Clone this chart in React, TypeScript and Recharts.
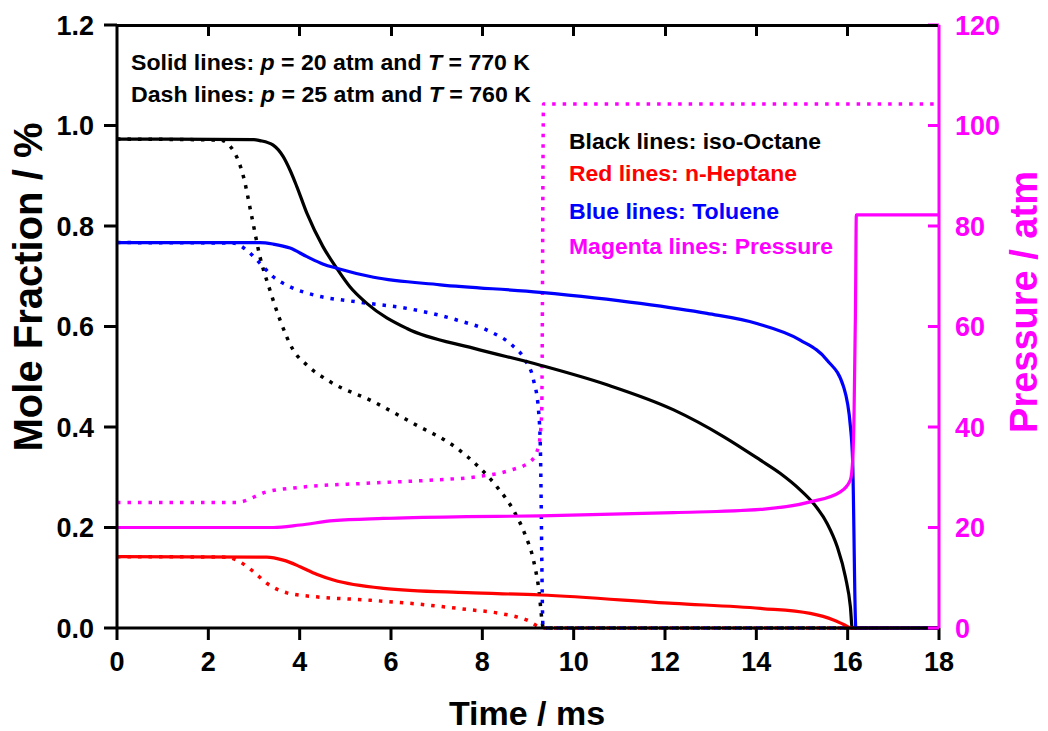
import { LineChart, Line, XAxis, YAxis } from "recharts"

const FONT = '"Liberation Sans", Arial, Helvetica, sans-serif'
const BLACK = "#000000"
const RED = "#ff0000"
const BLUE = "#0000ff"
const MAGENTA = "#ff00ff"

// [time / ms, mole fraction / %]  -- solid: p = 20 atm, T = 770 K
const isoOctane20: [number, number][] = [
  [0, 0.973], [3.0, 0.972], [3.13, 0.97], [3.42, 0.961], [3.64, 0.938], [3.79, 0.911],
  [3.94, 0.878], [4.16, 0.825], [4.51, 0.759], [4.81, 0.716], [5.1, 0.679], [5.47, 0.646],
  [6.35, 0.596], [7.8, 0.557], [9.27, 0.523], [10.73, 0.484], [12.19, 0.434],
  [13.28, 0.381], [14.09, 0.334], [14.52, 0.308], [14.96, 0.275], [15.25, 0.248],
  [15.55, 0.208], [15.77, 0.162], [15.95, 0.102], [16.06, 0.042], [16.1, 0], [18, 0],
]
const heptane20: [number, number][] = [
  [0, 0.142], [3.28, 0.141], [3.64, 0.135], [4.01, 0.122], [4.37, 0.107], [4.74, 0.0955],
  [5.83, 0.079], [7.66, 0.0703], [9.27, 0.0657], [12.19, 0.049], [14.09, 0.039],
  [15.18, 0.029], [15.69, 0.016], [15.91, 0.007], [16.09, 0], [18, 0],
]
const toluene20: [number, number][] = [
  [0, 0.767], [3.13, 0.767], [3.42, 0.764], [3.79, 0.756], [4.16, 0.739], [4.52, 0.724],
  [4.81, 0.716], [5.62, 0.698], [7.08, 0.683], [9.27, 0.668], [11.46, 0.646],
  [12.92, 0.626], [14.01, 0.606], [14.96, 0.573], [15.55, 0.533], [15.91, 0.48],
  [16.06, 0.401], [16.11, 0.33], [16.18, 0], [18, 0],
]
// [time / ms, pressure / atm]
const pressure20: [number, number][] = [
  [0, 20], [3.42, 20], [4.01, 20.5], [4.74, 21.35], [5.83, 21.8], [7.66, 22.15],
  [9.27, 22.3], [12.19, 22.95], [14.09, 23.6], [15.18, 25.1], [15.84, 27.1],
  [16.06, 29.5], [16.11, 33.4], [16.14, 42.7], [16.17, 62.6], [16.19, 82.2], [18, 82.2],
]

// dash: p = 25 atm, T = 760 K
const isoOctane25: [number, number][] = [
  [0, 0.973], [2.26, 0.971], [2.58, 0.945], [2.77, 0.898], [2.95, 0.819], [3.13, 0.739],
  [3.35, 0.672], [3.57, 0.613], [3.86, 0.553], [4.16, 0.523], [4.67, 0.49], [5.62, 0.45],
  [6.49, 0.407], [7.44, 0.358], [7.95, 0.318], [8.32, 0.281], [8.72, 0.228],
  [8.94, 0.185], [9.12, 0.135], [9.23, 0.082], [9.34, 0], [18, 0],
]
const heptane25: [number, number][] = [
  [0, 0.142], [2.4, 0.141], [2.62, 0.135], [2.99, 0.112], [3.28, 0.089], [3.72, 0.07],
  [4.37, 0.062], [5.47, 0.0557], [6.57, 0.0478], [7.66, 0.037], [8.39, 0.029],
  [8.97, 0.016], [9.34, 0], [18, 0],
]
const toluene25: [number, number][] = [
  [0, 0.767], [2.54, 0.766], [2.84, 0.752], [3.13, 0.726], [3.42, 0.699], [3.79, 0.679],
  [4.3, 0.663], [5.25, 0.649], [6.35, 0.636], [7.44, 0.613], [8.17, 0.59], [8.65, 0.563],
  [8.94, 0.533], [9.12, 0.494], [9.23, 0.434], [9.27, 0.361], [9.33, 0], [18, 0],
]
const pressure25: [number, number][] = [
  [0, 25], [2.62, 25], [3.28, 27.1], [4.01, 28], [5.47, 28.8], [6.93, 29.45],
  [7.88, 30.1], [8.61, 31.4], [9.05, 33.1], [9.23, 36.1], [9.3, 42.7], [9.34, 104.3],
  [18, 104.3],
]

const timeTicks = [0, 2, 4, 6, 8, 10, 12, 14, 16, 18]
const fractionTicks = [0, 0.2, 0.4, 0.6, 0.8, 1.0, 1.2]
const pressureTicks = [0, 20, 40, 60, 80, 100, 120]

// plot box (page pixels) -- chart margins + axis sizes below produce this
const PLOT_LEFT = 117
const PLOT_RIGHT = 939
const PLOT_TOP = 25
const T_MAX = 18

const toPoints = (pairs: [number, number][]) => pairs.map(([t, v]) => ({ t, v }))

const DOTTED = "3.5 7"

const series = [
  { key: "oct25", data: isoOctane25, color: BLACK, dash: DOTTED, y: "left" },
  { key: "hep25", data: heptane25, color: RED, dash: DOTTED, y: "left" },
  { key: "tol25", data: toluene25, color: BLUE, dash: DOTTED, y: "left" },
  { key: "p25", data: pressure25, color: MAGENTA, dash: DOTTED, y: "right" },
  { key: "oct20", data: isoOctane20, color: BLACK, dash: undefined, y: "left" },
  { key: "hep20", data: heptane20, color: RED, dash: undefined, y: "left" },
  { key: "tol20", data: toluene20, color: BLUE, dash: undefined, y: "left" },
  { key: "p20", data: pressure20, color: MAGENTA, dash: undefined, y: "right" },
]

const tickFont = { fontSize: 27, fontWeight: 700, fontFamily: FONT }

export default function App() {
  const frameX = (t: number) => PLOT_LEFT + (t / T_MAX) * (PLOT_RIGHT - PLOT_LEFT)

  return (
    <div style={{ position: "absolute", left: 0, top: 0, width: 1048, height: 731, background: "#fff" }}>
      <LineChart width={1048} height={731} margin={{ top: 25, right: 29, bottom: 43, left: 37 }}>
        <XAxis
          dataKey="t"
          type="number"
          domain={[0, T_MAX]}
          ticks={timeTicks}
          height={60}
          tickSize={12}
          tickMargin={12}
          axisLine={{ stroke: BLACK, strokeWidth: 3 }}
          tickLine={{ stroke: BLACK, strokeWidth: 3 }}
          tick={{ ...tickFont, fill: BLACK }}
        />
        <YAxis
          yAxisId="left"
          type="number"
          domain={[0, 1.2]}
          ticks={fractionTicks}
          width={80}
          tickSize={13}
          tickMargin={10}
          tickFormatter={(v: number) => v.toFixed(1)}
          axisLine={{ stroke: BLACK, strokeWidth: 3 }}
          tickLine={{ stroke: BLACK, strokeWidth: 3 }}
          tick={{ ...tickFont, fill: BLACK }}
        />
        {/* pressure axis: inward ticks, labels outside */}
        <YAxis
          yAxisId="right"
          orientation="right"
          type="number"
          domain={[0, 120]}
          ticks={pressureTicks}
          width={80}
          tickSize={-11}
          tickMargin={27}
          axisLine={{ stroke: MAGENTA, strokeWidth: 3 }}
          tickLine={{ stroke: MAGENTA, strokeWidth: 3 }}
          tick={{ ...tickFont, fill: MAGENTA }}
        />
        {series.map((s) => (
          <Line
            key={s.key}
            data={toPoints(s.data)}
            dataKey="v"
            yAxisId={s.y}
            type="monotone"
            stroke={s.color}
            strokeWidth={s.dash ? 3.5 : 3.2}
            strokeDasharray={s.dash}
            dot={false}
            activeDot={false}
            isAnimationActive={false}
          />
        ))}
      </LineChart>

      <svg
        width={1048}
        height={731}
        style={{ position: "absolute", left: 0, top: 0, pointerEvents: "none" }}
        fontFamily={FONT}
        fontWeight={700}
      >
        <text x={527} y={725} fontSize={34} textAnchor="middle" fill={BLACK}>Time / ms</text>
        <text x={42} y={287} fontSize={40} textAnchor="middle" fill={BLACK} transform="rotate(-90 42 287)">
          Mole Fraction / %
        </text>
        <text x={1037} y={302} fontSize={38} textAnchor="middle" fill={MAGENTA} transform="rotate(-90 1037 302)">
          Pressure / atm
        </text>

        <text x={131} y={70} fontSize={22} fill={BLACK} textLength={399} lengthAdjust="spacingAndGlyphs">
          Solid lines: <tspan fontStyle="italic">p</tspan> = 20 atm and <tspan fontStyle="italic">T</tspan> = 770 K
        </text>
        <text x={131} y={102} fontSize={22} fill={BLACK} textLength={400} lengthAdjust="spacingAndGlyphs">
          Dash lines: <tspan fontStyle="italic">p</tspan> = 25 atm and <tspan fontStyle="italic">T</tspan> = 760 K
        </text>

        <text x={569} y={149} fontSize={22} fill={BLACK} textLength={252} lengthAdjust="spacingAndGlyphs">
          Black lines: iso-Octane
        </text>
        <text x={569} y={181} fontSize={22} fill={RED} textLength={228} lengthAdjust="spacingAndGlyphs">
          Red lines: n-Heptane
        </text>
        <text x={569} y={219} fontSize={22} fill={BLUE} textLength={210} lengthAdjust="spacingAndGlyphs">
          Blue lines: Toluene
        </text>
        <text x={569} y={254} fontSize={22} fill={MAGENTA} textLength={264} lengthAdjust="spacingAndGlyphs">
          Magenta lines: Pressure
        </text>
      </svg>

      {/* top frame with inward ticks */}
      <div
        style={{
          position: "absolute",
          left: PLOT_LEFT - 1.5,
          top: PLOT_TOP - 1.5,
          width: PLOT_RIGHT - PLOT_LEFT,
          height: 3,
          background: BLACK,
          zIndex: 5,
        }}
      />
      {timeTicks.slice(1, -1).map((t) => (
        <div
          key={t}
          style={{
            position: "absolute",
            left: frameX(t) - 1.5,
            top: PLOT_TOP,
            width: 3,
            height: 11,
            background: BLACK,
            zIndex: 5,
          }}
        />
      ))}
    </div>
  )
}
